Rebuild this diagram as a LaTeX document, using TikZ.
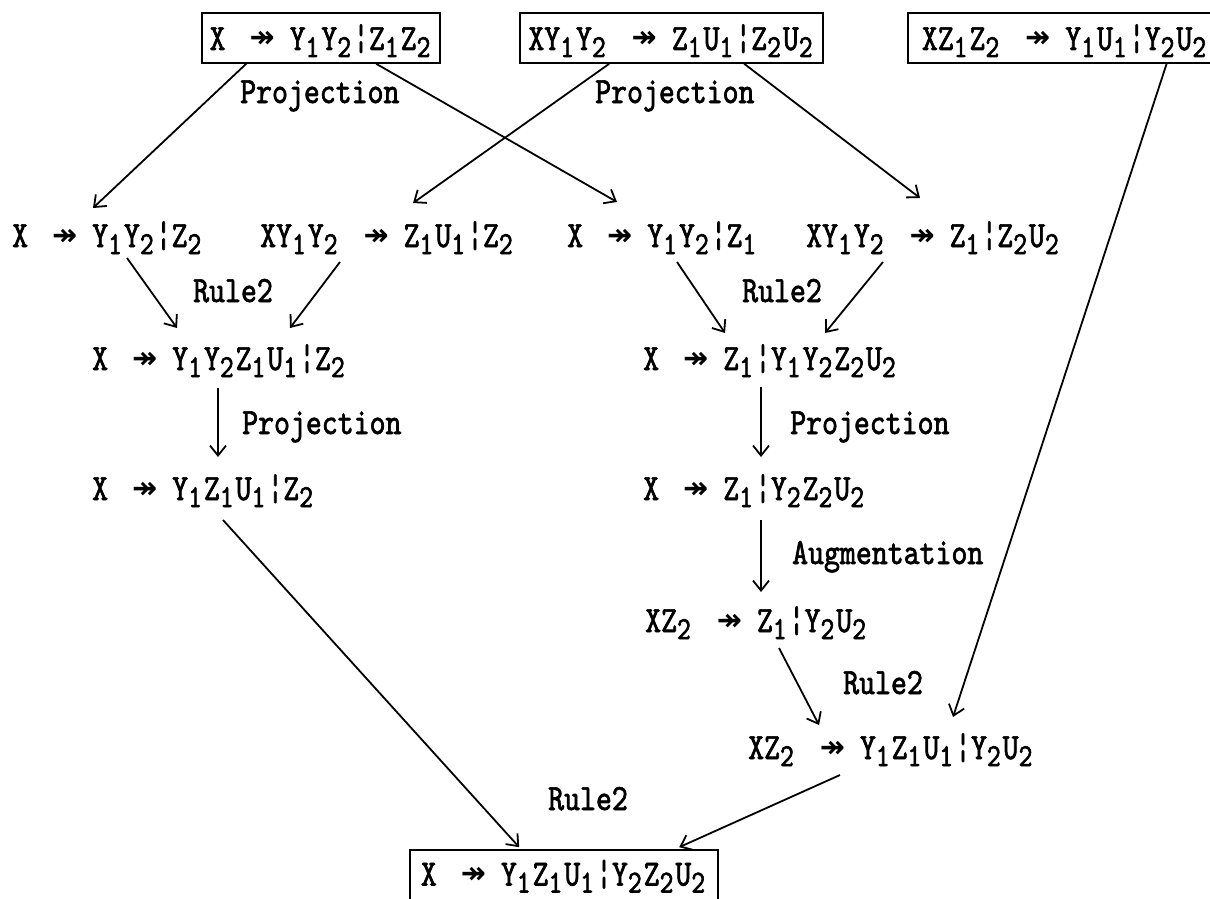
\documentclass[tikz,border=0pt]{standalone}
\usepackage{fontspec}
\newfontfamily\tw{lmmono10-regular.otf}[FakeStretch=0.82,FakeBold=1.8]
\newfontfamily\arw{DejaVu Sans}
\usetikzlibrary{arrows.meta,calc}
\newcommand\sbx[1]{\raisebox{-7pt}{\fontsize{32}{32}\selectfont #1}\kern2pt}
\newcommand\mvd{\hspace{24pt}\raisebox{2pt}{\arw\bfseries\fontsize{30}{30}\selectfont ↠}\hspace{15pt}}
\tikzset{
  fml/.style={inner sep=0pt, anchor=base west, font=\tw\fontsize{37}{40}\selectfont},
  lbl/.style={inner sep=0pt, anchor=base west, font=\tw\fontsize{37}{40}\selectfont},
  bx/.style={draw, line width=1.6pt, inner sep=0pt, minimum height=50pt, text height=30pt, text depth=6pt, font=\tw\fontsize{37}{40}\selectfont},
  bxopen/.style={inner sep=0pt, minimum height=50pt, text height=30pt, text depth=6pt, font=\tw\fontsize{37}{40}\selectfont},
  boxline/.style={line width=1.6pt},
  arr/.style={line width=1.8pt, -{Straight Barb[length=10pt,width=16pt]}}
}
\begin{document}
\begin{tikzpicture}[x=1pt,y=-1pt]
\fill[white] (0,0) rectangle (1210,899);
\useasboundingbox (0,0) rectangle (1210,899);
% top boxes
\node[bx, minimum width=238pt] (b1) at (321,38) {X\mvd Y\sbx{1}Y\sbx{2}¦Z\sbx{1}Z\sbx{2}};
\node[bx, minimum width=303pt] (b2) at (671.5,38) {XY\sbx{1}Y\sbx{2}\mvd Z\sbx{1}U\sbx{1}¦Z\sbx{2}U\sbx{2}};
\node[bxopen, minimum width=314pt] (b3) at (1065,38) {XZ\sbx{1}Z\sbx{2}\mvd Y\sbx{1}U\sbx{1}¦Y\sbx{2}U\sbx{2}};
\draw[boxline] ($(b3.north west)+(310,0)$) -| (b3.south west) -- ++(310,0);
% row 2
\node[fml] (n21) at (12,247) {X\mvd Y\sbx{1}Y\sbx{2}¦Z\sbx{2}};
\node[fml] (n22) at (260,247) {XY\sbx{1}Y\sbx{2}\mvd Z\sbx{1}U\sbx{1}¦Z\sbx{2}};
\node[fml] (n23) at (567,247) {X\mvd Y\sbx{1}Y\sbx{2}¦Z\sbx{1}};
\node[fml] (n24) at (806,247) {XY\sbx{1}Y\sbx{2}\mvd Z\sbx{1}¦Z\sbx{2}U\sbx{2}};
% row 3
\node[fml] (n31) at (92,370) {X\mvd Y\sbx{1}Y\sbx{2}Z\sbx{1}U\sbx{1}¦Z\sbx{2}};
\node[fml] (n32) at (643,370) {X\mvd Z\sbx{1}¦Y\sbx{1}Y\sbx{2}Z\sbx{2}U\sbx{2}};
% row 4
\node[fml] (n41) at (92,500) {X\mvd Y\sbx{1}Z\sbx{1}U\sbx{1}¦Z\sbx{2}};
\node[fml] (n42) at (643,500) {X\mvd Z\sbx{1}¦Y\sbx{2}Z\sbx{2}U\sbx{2}};
% row 5
\node[fml] (n5) at (645,632) {XZ\sbx{2}\mvd Z\sbx{1}¦Y\sbx{2}U\sbx{2}};
% row 6
\node[fml] (n6) at (748,759) {XZ\sbx{2}\mvd Y\sbx{1}Z\sbx{1}U\sbx{1}¦Y\sbx{2}U\sbx{2}};
% bottom box
\node[bx, minimum width=308pt, minimum height=52pt, text height=25pt] (bb) at (564,876) {X\mvd Y\sbx{1}Z\sbx{1}U\sbx{1}¦Y\sbx{2}Z\sbx{2}U\sbx{2}};
% labels
\node[lbl] (l1) at (240,103) {Projection};
\node[lbl] (l2) at (595,103) {Projection};
\node[lbl] (l3) at (193,302) {Rule2};
\node[lbl] (l4) at (742,302) {Rule2};
\node[lbl] (l5) at (242,434) {Projection};
\node[lbl] (l6) at (790,434) {Projection};
\node[lbl] (l7) at (792,564) {Augmentation};
\node[lbl] (l8) at (843,694) {Rule2};
\node[lbl] (l9) at (548,810) {Rule2};
% connectors
\draw[arr] ($(b1.south west)+(45,0)$) -- ($(n21.base west)+(81,-39)$);
\draw[arr] ($(b1.south west)+(175,0)$) -- ($(n23.base west)+(50,-45)$);
\draw[arr] ($(b2.south west)+(90,0)$) -- ($(n22.base west)+(153,-44)$);
\draw[arr] ($(b2.south west)+(225,0)$) -- ($(n24.base west)+(114,-49)$);
\draw[arr] ($(b3.south west)+(259,0)$) -- ($(n6.base west)+(205,-42)$);
\draw[arr] ($(n21.base west)+(115,11)$) -- ($(n31.base west)+(85,-42)$);
\draw[arr] ($(n22.base west)+(80,15)$) -- ($(n31.base west)+(198,-42)$);
\draw[arr] ($(n23.base west)+(110,15)$) -- ($(n32.base west)+(82,-37)$);
\draw[arr] ($(n24.base west)+(77,15)$) -- ($(n32.base west)+(182,-37)$);
\draw[arr] ($(n31.base west)+(126,18)$) -- ($(n41.base west)+(126,-43)$);
\draw[arr] ($(n32.base west)+(118,17)$) -- ($(n42.base west)+(118,-43)$);
\draw[arr] ($(n42.base west)+(118,20)$) -- ($(n5.base west)+(116,-40)$);
\draw[arr] ($(n5.base west)+(134,16)$) -- ($(n6.base west)+(71,-34)$);
\draw[arr] ($(n41.base west)+(131,20)$) -- ($(bb.north west)+(110,-2)$);
\draw[arr] ($(n6.base west)+(92,16)$) -- ($(bb.north west)+(270,-2)$);
\end{tikzpicture}
\end{document}
